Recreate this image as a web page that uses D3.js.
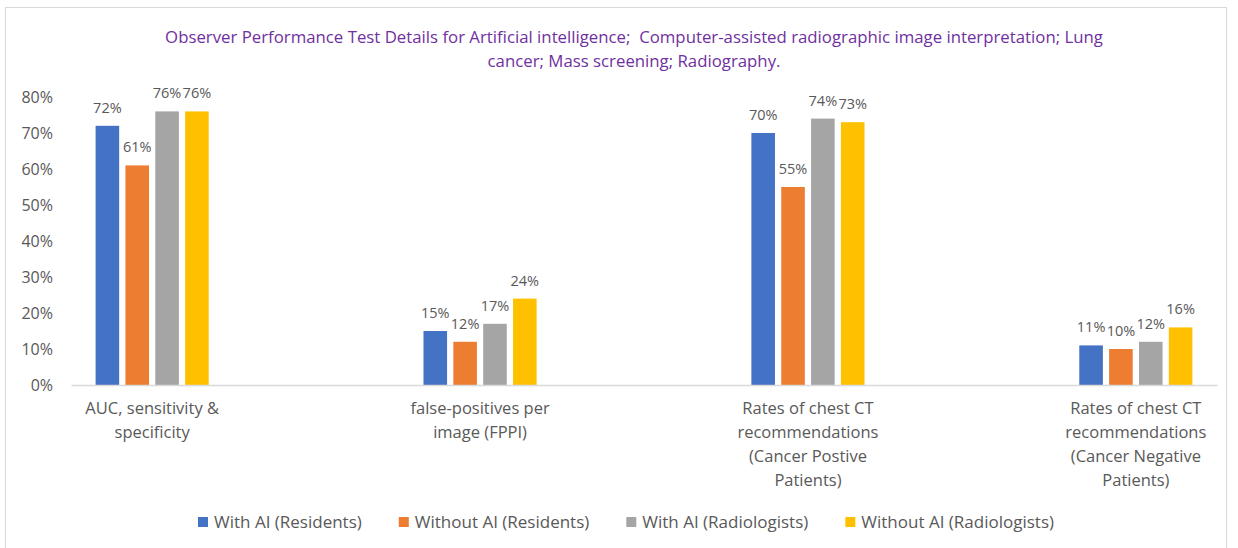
<!DOCTYPE html>
<html>
<head>
<meta charset="utf-8">
<script src="https://cdn.jsdelivr.net/npm/d3@7"></script>
<style>
  body { margin: 0; background: #fff; }
  svg, svg text { font-family: 'Open Sans', 'Noto Sans', sans-serif; }
  .axis text { fill: #595959; font-size: 16px; }
  .xAxis text { font-size: 16.5px; }
  .valueLabel { fill: #595959; font-size: 14.5px; text-anchor: middle; }
  .legend text { fill: #595959; font-size: 17px; }
  .title { fill: #7030A0; font-size: 16.8px; text-anchor: middle; }
</style>
</head>
<body>
<svg id="chart"></svg>
<script>
(function () {
  'use strict';

  // chart data
  var categories = ['auc', 'fppi', 'ctPos', 'ctNeg'];
  var categoryLines = [
    ['AUC, sensitivity &', 'specificity'],
    ['false-positives per', 'image (FPPI)'],
    ['Rates of chest CT', 'recommendations', '(Cancer Postive', 'Patients)'],
    ['Rates of chest CT', 'recommendations', '(Cancer Negative', 'Patients)']
  ];
  var seriesNames = ['With AI (Residents)', 'Without AI (Residents)', 'With AI (Radiologists)', 'Without AI (Radiologists)'];
  var seriesColours = ['#4472C4', '#ED7D31', '#A5A5A5', '#FFC000'];
  var withAiResidents = [0.72, 0.15, 0.70, 0.11];
  var withoutAiResidents = [0.61, 0.12, 0.55, 0.10];
  var withAiRadiologists = [0.76, 0.17, 0.74, 0.12];
  var withoutAiRadiologists = [0.76, 0.24, 0.73, 0.16];
  var yTicks = [0, 0.1, 0.2, 0.3, 0.4, 0.5, 0.6, 0.7, 0.8];
  var titleLines = [
    'Observer Performance Test Details for Artificial intelligence;  Computer-assisted radiographic image interpretation; Lung',
    'cancer; Mass screening; Radiography.'
  ];

  var seriesValues = [withAiResidents, withoutAiResidents, withAiRadiologists, withoutAiRadiologists];

  var width = 1238, height = 548;
  var margin = { top: 97, right: 21, bottom: 163, left: 71 };

  var svg = d3.select('#chart')
    .attr('width', width)
    .attr('height', height);

  // outer frame
  svg.append('rect')
    .attr('x', 5.5)
    .attr('y', 7.5)
    .attr('width', 1221)
    .attr('height', 600)
    .attr('fill', 'none')
    .attr('stroke', '#d9d9d9');

  svg.append('text')
    .attr('class', 'title')
    .attr('x', 634)
    .attr('y', 43)
    .selectAll('tspan')
    .data(titleLines)
    .enter()
    .append('tspan')
    .attr('x', 634)
    .attr('dy', (d, i) => i ? 24 : 0)
    .style('white-space', 'pre')
    .text(d => d);

  var x0 = d3.scaleBand()
    .domain(categories)
    .range([margin.left, width - margin.right])
    .paddingInner(0.655)
    .paddingOuter(0.075);

  var x1 = d3.scaleBand()
    .domain(d3.range(seriesNames.length))
    .range([0, x0.bandwidth()])
    .paddingInner(0.21);

  var y = d3.scaleLinear()
    .domain([0, 0.8])
    .range([height - margin.bottom, margin.top]);

  var yAxis = d3.axisLeft(y)
    .tickValues(yTicks)
    .tickSize(0)
    .tickPadding(18)
    .tickFormat(d3.format('.0%'));

  svg.append('g')
    .attr('class', 'axis yAxis')
    .attr('transform', `translate(${margin.left}, 0)`)
    .call(yAxis)
    .call(g => g.select('.domain').remove())
    .attr('font-family', null);

  // bars
  var groups = svg.selectAll('g.group')
    .data(categories)
    .enter()
    .append('g')
    .attr('class', 'group')
    .attr('transform', d => `translate(${x0(d)}, 0)`);

  var cells = groups.selectAll('rect.bar')
    .data((c, ci) => seriesValues.map((vals, si) => ({ s: si, value: vals[ci] })))
    .enter();

  cells.append('rect')
    .attr('class', 'bar')
    .attr('x', d => x1(d.s))
    .attr('width', x1.bandwidth())
    .attr('y', d => y(d.value))
    .attr('height', d => y(0) - y(d.value))
    .style('fill', d => seriesColours[d.s]);

  cells.append('text')
    .attr('class', 'valueLabel')
    .attr('x', d => x1(d.s) + x1.bandwidth() / 2)
    .attr('y', d => y(d.value) - 13)
    .text(d => d3.format('.0%')(d.value));

  // category axis (baseline + wrapped labels)
  var xAxis = d3.axisBottom(x0)
    .tickSize(0)
    .tickFormat('');

  var xg = svg.append('g')
    .attr('class', 'axis xAxis')
    .attr('transform', `translate(0, ${y(0)})`)
    .call(xAxis)
    .attr('font-family', null);

  xg.select('.domain')
    .attr('stroke', '#d9d9d9')
    .attr('stroke-width', 1.3);

  xg.selectAll('.tick text')
    .each(function (d, i) {
      var t = d3.select(this).attr('y', 0).attr('dy', null);
      t.selectAll('tspan')
        .data(categoryLines[i])
        .enter()
        .append('tspan')
        .attr('x', 0)
        .attr('y', (l, j) => 29 + j * 24)
        .text(l => l);
    });

  // legend
  var legend = svg.append('g').attr('class', 'legend');
  var items = legend.selectAll('g.item')
    .data(seriesNames)
    .enter()
    .append('g')
    .attr('class', 'item');

  items.append('rect')
    .attr('width', 10)
    .attr('height', 10)
    .attr('y', -5)
    .style('fill', (d, i) => seriesColours[i]);

  items.append('text')
    .attr('x', 16)
    .attr('dy', '0.35em')
    .text(d => d);

  var widths = [];
  items.select('text').each(function () { widths.push(this.getComputedTextLength()); });
  var gap = 37;
  var total = d3.sum(widths) + widths.length * 16 + (widths.length - 1) * gap;
  var cursor = 626 - total / 2;
  items.attr('transform', function (d, i) {
    var tx = cursor;
    cursor += 16 + widths[i] + gap;
    return `translate(${tx}, 522)`;
  });
}());
</script>
</body>
</html>
